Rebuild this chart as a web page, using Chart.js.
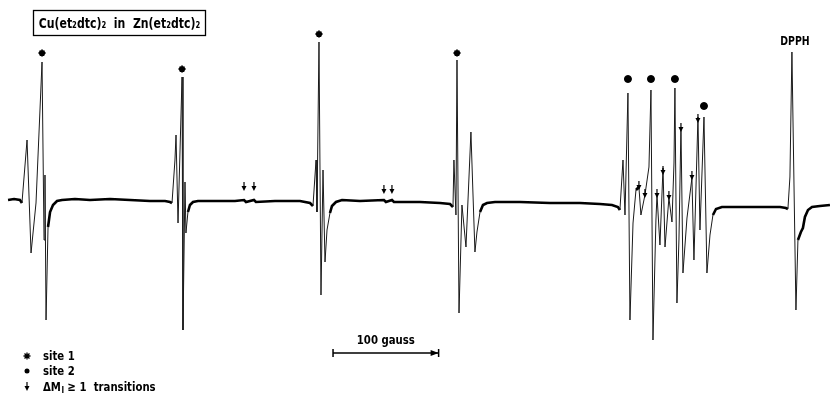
<!DOCTYPE html>
<html>
<head>
<meta charset="utf-8">
<script src="https://cdn.jsdelivr.net/npm/chart.js@4"></script>
<style>
  body { margin: 0; background: #fff; }
  #spectrum { display: block; }
</style>
</head>
<body>
<canvas id="spectrum" width="831" height="404"></canvas>
<script>
// Field position (gauss from start of sweep) and derivative signal (arb. units)
const fieldG = [
    7.6, 13.3, 18.9, 20.8, 25.6, 29.4, 34.1, 39.8, 41.7, 42.6, 43.6, 45.5, 47.4, 50.2, 54.0, 58.7,
    71.0, 85.2, 104.2, 123.1, 142.0, 156.3, 161.0,
    162.9, 165.7, 166.7, 168.6, 170.5, 172.4, 173.3, 175.2, 176.1, 178.0, 179.9, 182.8, 187.5,
    203.6, 222.5, 231.1, 233.0, 240.5, 242.4, 260.4, 284.1, 293.6, 296.4,
    299.3, 300.2, 302.1, 304.0, 305.9, 307.8, 309.7, 312.5, 314.4, 318.2, 323.9,
    340.9, 363.6, 365.5, 371.2, 373.1, 397.7, 416.7, 426.2, 429.0,
    429.9, 431.8, 432.8, 434.7, 437.5, 441.3, 446.0, 447.9, 449.8, 451.7, 454.6, 457.4, 461.2, 468.8,
    492.4, 520.9, 549.3, 568.2, 579.6, 585.2, 587.1,
    590.0, 591.9, 594.7, 596.6, 599.5, 602.3, 605.1, 607.0, 610.8, 614.6, 616.5, 618.4, 621.2, 622.2,
    625.0, 627.9, 629.8, 633.5, 636.4, 638.3, 639.2, 641.1, 643.0, 644.9, 646.8, 650.6, 655.3, 657.2,
    661.0, 662.9, 666.7, 669.5, 672.4, 675.2, 678.1, 683.7,
    700.8, 719.7, 738.7, 744.3, 746.2,
    748.1, 750.0, 753.8, 755.7, 758.5, 760.4, 762.3, 765.2, 769.0, 776.5, 786.0
];
const signal = [
    1, 2, 1, -2, 61, -52, -2, 139, -39, 26, -119, -26, -11, -4, 0, 1,
    2, 1, 2, 1, 0, 0, -1,
    -2, 41, 66, -22, 51, 124, -129, 19, -32, -11, -4, -1, 0,
    0, 0, 1, -1, 1, -1, 0, 0, -2, -5,
    41, -11, 159, -94, 31, -61, -29, -12, -5, -1, 1,
    0, 1, -1, 1, -1, -1, -2, -3, -6,
    41, -14, 141, -112, -4, -46, 69, 8, -51, -31, -11, -4, -2, -1,
    -1, -2, -2, -3, -4, -6, -9,
    41, -14, 108, -119, -22, 11, 14, -14, 6, 34, 111, -139, -19, 6,
    -44, 33, -46, 3, -21, 38, 113, -102, -39, 74, -72, -17, 23, -59,
    84, -29, 84, -72, -34, -14, -8, -6,
    -6, -6, -6, -7, -8,
    24, 149, -109, -39, -31, -27, -16, -9, -6, -5, -4
];

// markers: site 1 (asterisks), site 2 (dots), delta M_I >= 1 transitions (arrows)
const site1G = [39.8, 172.4, 302.1, 432.8];
const site1Mark = [148, 132, 167, 148];
const site2G = [594.7, 616.5, 639.2, 666.7];
const site2Mark = [122, 122, 122, 95];
const dmG = [231.1, 240.5, 363.6, 371.2, 605.1, 610.8, 622.2, 627.9, 633.5, 644.9, 655.3, 661.0];
const dmMark = [10, 10, 7, 7, 11, 3, 3, 26, 1, 69, 21, 78];

const dpphG = 750.0;
const dpphMark = 156;
const scaleBarG = [315.4, 415.4];
const scaleBarLevel = -152;
const scaleBarLabel = '100 gauss';

const FONT = '"DejaVu Sans", sans-serif';
const SQUEEZE = 0.78; // the lettering on the original is narrow

// draw text squeezed horizontally, returns its width
function narrowText(ctx, text, x, y, size, align) {
    ctx.font = 'bold ' + size + 'px ' + FONT;
    const w = ctx.measureText(text).width * SQUEEZE;
    let left = x;
    if (align === 'center') left = x - w / 2;
    ctx.save();
    ctx.textAlign = 'left';
    ctx.translate(left, y);
    ctx.scale(SQUEEZE, 1);
    ctx.fillText(text, 0, 0);
    ctx.restore();
    return w;
}

function drawArrow(ctx, x, y, len) {
    ctx.save();
    ctx.strokeStyle = '#000';
    ctx.fillStyle = '#000';
    ctx.lineWidth = 1.2;
    ctx.beginPath();
    ctx.moveTo(x, y - len);
    ctx.lineTo(x, y - 3);
    ctx.stroke();
    ctx.beginPath();
    ctx.moveTo(x - 2.5, y - 5);
    ctx.lineTo(x + 2.5, y - 5);
    ctx.lineTo(x, y);
    ctx.closePath();
    ctx.fill();
    ctx.restore();
}

// texts, arrows, scale bar and key
const annotations = {
    id: 'annotations',
    afterDatasetsDraw(chart) {
        const ctx = chart.ctx;
        const xs = chart.scales.x;
        const ys = chart.scales.y;

        dmG.forEach((g, i) => {
            drawArrow(ctx, xs.getPixelForValue(g), ys.getPixelForValue(dmMark[i]), 9);
        });

        ctx.save();
        ctx.fillStyle = '#000';
        ctx.strokeStyle = '#000';
        ctx.textBaseline = 'alphabetic';

        // DPPH label
        narrowText(ctx, 'DPPH', xs.getPixelForValue(dpphG) + 3, ys.getPixelForValue(dpphMark), 12, 'center');

        // scale bar
        const x0 = xs.getPixelForValue(scaleBarG[0]);
        const x1 = xs.getPixelForValue(scaleBarG[1]);
        const yb = ys.getPixelForValue(scaleBarLevel);
        ctx.lineWidth = 1.5;
        ctx.beginPath();
        ctx.moveTo(x0, yb); ctx.lineTo(x1, yb);
        ctx.moveTo(x0, yb - 4); ctx.lineTo(x0, yb + 4);
        ctx.moveTo(x1, yb - 4); ctx.lineTo(x1, yb + 4);
        ctx.stroke();
        ctx.beginPath();
        ctx.moveTo(x1, yb); ctx.lineTo(x1 - 8, yb - 3); ctx.lineTo(x1 - 8, yb + 3);
        ctx.closePath();
        ctx.fill();
        narrowText(ctx, scaleBarLabel, (x0 + x1) / 2, yb - 9, 13, 'center');

        // title box
        ctx.lineWidth = 1.3;
        ctx.strokeRect(33.5, 10.5, 172, 25);
        narrowText(ctx, 'Cu(et\u2082dtc)\u2082  in  Zn(et\u2082dtc)\u2082', 119.5, 28, 14, 'center');

        // key
        Chart.helpers.drawPoint(ctx, { pointStyle: 'star', radius: 3.5, borderWidth: 1.8 }, 27, 356);
        narrowText(ctx, 'site 1', 43, 360, 13);
        ctx.beginPath();
        ctx.arc(27, 371, 2.5, 0, Math.PI * 2);
        ctx.fill();
        narrowText(ctx, 'site 2', 43, 375, 13);
        drawArrow(ctx, 27, 391, 9);
        let tx = 43;
        tx += narrowText(ctx, '\u0394M', tx, 391, 13);
        tx += narrowText(ctx, 'I', tx + 0.5, 393, 9) + 4;
        narrowText(ctx, '\u2265 1  transitions', tx, 391, 13);
        ctx.restore();
    }
};

const ctx = document.getElementById('spectrum').getContext('2d');
const traceData = fieldG.map((g, i) => ({ x: g, y: signal[i] }));

new Chart(ctx, {
    type: 'line',
    data: {
        datasets: [
            {
                label: 'EPR trace',
                data: traceData,
                borderColor: '#000',
                borderWidth: 2.6,
                pointRadius: 0,
                tension: 0,
                fill: false,
                segment: {
                    borderWidth: c => Math.abs(c.p1.parsed.y - c.p0.parsed.y) > 16 ? 1 : 2.6,
                    borderColor: c => Math.abs(c.p1.parsed.y - c.p0.parsed.y) > 16 ? '#1a1a1a' : '#000'
                }
            },
            {
                label: 'site 1',
                data: site1G.map((g, i) => ({ x: g, y: site1Mark[i] })),
                showLine: false,
                pointStyle: 'star',
                pointRadius: 3.5,
                borderColor: '#000',
                pointBorderWidth: 1.8
            },
            {
                label: 'site 2',
                data: site2G.map((g, i) => ({ x: g, y: site2Mark[i] })),
                showLine: false,
                pointStyle: 'circle',
                pointRadius: 3.5,
                backgroundColor: '#000',
                borderColor: '#000',
                pointBackgroundColor: '#000'
            }
        ]
    },
    options: {
        responsive: false,
        animation: false,
        layout: { padding: 0, autoPadding: false },
        plugins: { legend: { display: false }, tooltip: { enabled: false } },
        scales: {
            x: { type: 'linear', min: 0, max: 787, display: false },
            y: { type: 'linear', min: -203, max: 201, display: false }
        }
    },
    plugins: [annotations]
});
</script>
</body>
</html>
